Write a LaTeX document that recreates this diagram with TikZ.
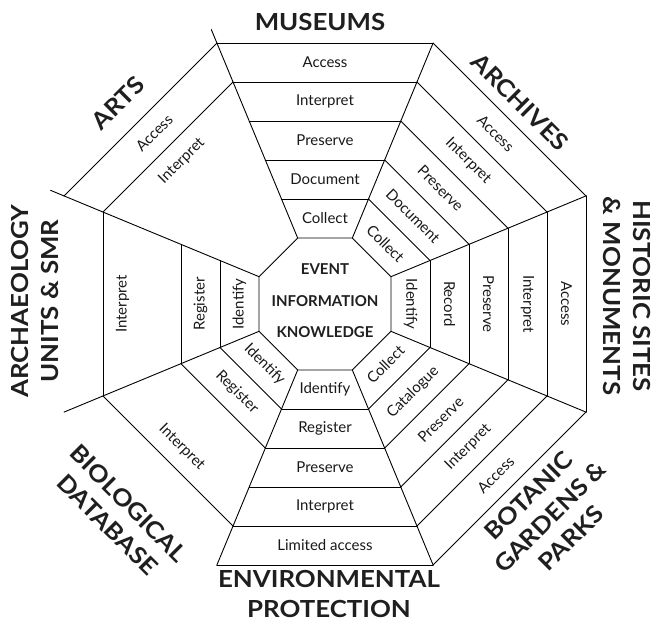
\documentclass[tikz,border=0pt]{standalone}
\usepackage{fontspec}
\setmainfont{Lato}
\newfontfamily\titlefont{Lato}[FakeStretch=1.1]
\usetikzlibrary{calc}
\begin{document}
\begin{tikzpicture}[x=1pt,y=-1pt,
  edge/.style={line width=0.9pt, line join=round, line cap=round},
  lab/.style={font=\fontsize{15}{18}\selectfont, inner sep=0pt, text=black!90},
  ttl/.style={font=\titlefont\bfseries\fontsize{23.5}{30}\selectfont, align=center, inner sep=0pt, text=black!88},
  ctr/.style={font=\bfseries\fontsize{15}{31.5}\selectfont, align=center, inner sep=0pt, text=black!88}]
\useasboundingbox (0,0) rectangle (653,622);
\coordinate (C) at (325,304);
% octagon vertices: vertex i, layer k
\foreach \i in {0,...,7}{
  \foreach \k in {0,...,5}{
    \coordinate (v\i-\k) at ($(C)+({22.5+45*\i}:{(66+39*\k)*1.082392})$);
  }
}
\coordinate (e4) at ($(C)+(202.5:297)$);
\coordinate (e5) at ($(C)+(247.5:297)$);
% inner octagon
\draw[edge] (v0-0) -- (v1-0) -- (v2-0) -- (v3-0) -- (v4-0) -- (v5-0) -- (v6-0) -- (v7-0) -- cycle;
% radial lines
\foreach \i in {0,...,7}{ \draw[edge] (v\i-0) -- (v\i-5); }
\draw[edge] (v4-5) -- (e4);
\draw[edge] (v5-5) -- (e5);
% full sectors
\foreach \a/\b in {7/0,0/1,1/2,5/6,6/7}{
  \foreach \k in {1,...,5}{ \draw[edge] (v\a-\k) -- (v\b-\k); }
}
% partial sectors
\foreach \a/\b/\k in {2/3/1,2/3/2,2/3/4,3/4/1,3/4/2,3/4/4,4/5/4,4/5/5}{
  \draw[edge] (v\a-\k) -- (v\b-\k);
}
% cell labels
\foreach \ax/\r/\k/\t [count=\n] in {
  270/0/0/Collect, 270/0/1/Document, 270/0/2/Preserve, 270/0/3/Interpret, 270/0/4/Access,
  315/-45/0/Collect, 315/-45/1/Document, 315/-45/2/Preserve, 315/-45/3/Interpret, 315/-45/4/Access,
  0/-90/0/Identify, 0/-90/1/Record, 0/-90/2/Preserve, 0/-90/3/Interpret, 0/-90/4/Access,
  45/45/0/Collect, 45/45/1/Catalogue, 45/45/2/Preserve, 45/45/3/Interpret, 45/45/4/Access,
  90/0/0/Identify, 90/0/1/Register, 90/0/2/Preserve, 90/0/3/Interpret, 90/0/4/Limited access,
  135/-45/0/Identify, 135/-45/1/Register, 135/-45/3/Interpret,
  180/90/0/Identify, 180/90/1/Register, 180/90/3/Interpret,
  225/45/3/Interpret, 225/45/4/Access}{
  \node[lab, rotate=\r] (L\n) at ($(C)+(\ax:{66+39*(\k+0.5)})$) {\t};
}
% centre
\node[ctr] (centre) at (325,301) {EVENT\\INFORMATION\\KNOWLEDGE};
% titles
\node[ttl] (museums) at (320,22) {MUSEUMS};
\node[ttl, rotate=-45] (archives) at (520,102) {ARCHIVES};
\node[ttl, rotate=-90] (historic) at (627,296) {HISTORIC SITES\\\& MONUMENTS};
\node[ttl, rotate=45] (botanic) at (550,517) {BOTANIC\\GARDENS \&\\PARKS};
\node[ttl] (environ) at (329,594) {ENVIRONMENTAL\\PROTECTION};
\node[ttl, rotate=-45] (bio) at (118,514) {BIOLOGICAL\\DATABASE};
\node[ttl, rotate=90] (arch) at (35,301) {ARCHAEOLOGY\\UNITS \& SMR};
\node[ttl, rotate=45] (arts) at (118,103) {ARTS};
\end{tikzpicture}
\end{document}
